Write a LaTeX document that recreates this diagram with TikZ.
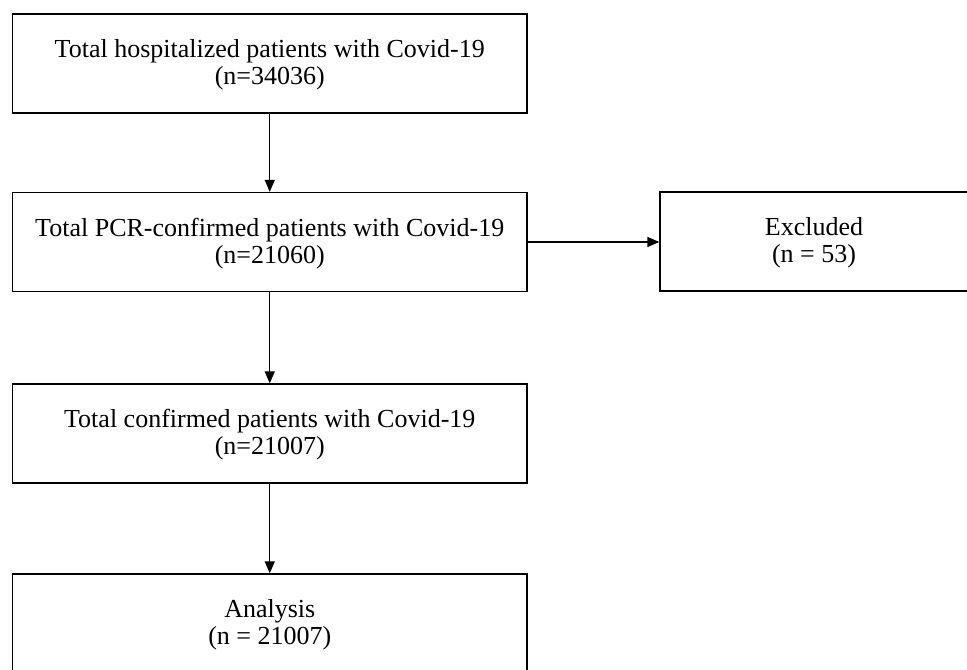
\documentclass[tikz,border=0pt]{standalone}
\usepackage{fontspec}
\setmainfont{Liberation Serif}
\usetikzlibrary{positioning,arrows.meta}

\begin{document}
\begin{tikzpicture}[x=0.75pt,y=-0.75pt,
  flowbox/.style={draw,line width=1pt,align=center,minimum width=385.9pt,
    minimum height=74.25pt,font=\fontsize{19.5}{20}\selectfont,text depth=2pt},
  flowarr/.style={line width=1pt,-{Triangle[length=9pt,width=7.5pt]}}]
% page = the cropped 967x669 screenshot
\useasboundingbox (0,0) rectangle (967,669);
\clip (0,0) rectangle (967,669);
% main column
\node[flowbox] (hosp) at (269.75,63.5) {Total hospitalized patients with Covid-19\\(n=34036)};
\node[flowbox] (pcr) at (269.75,242) {Total PCR-confirmed patients with Covid-19\\(n=21060)};
\node[flowbox] (conf) at (269.75,433.5) {Total confirmed patients with Covid-19\\(n=21007)};
\node[flowbox] (anal) at (269.75,623.5) {Analysis\\(n = 21007)};
% side box, runs off the right edge
\node[flowbox,minimum width=231pt] (excl) at (814,241.5) {Excluded\\(n = 53)};
\draw[flowarr] (hosp) -- (pcr);
\draw[flowarr] (pcr) -- (conf);
\draw[flowarr] (conf) -- (anal);
\draw[flowarr] (pcr.east) -- (pcr.east -| excl.west);
\end{tikzpicture}
\end{document}
